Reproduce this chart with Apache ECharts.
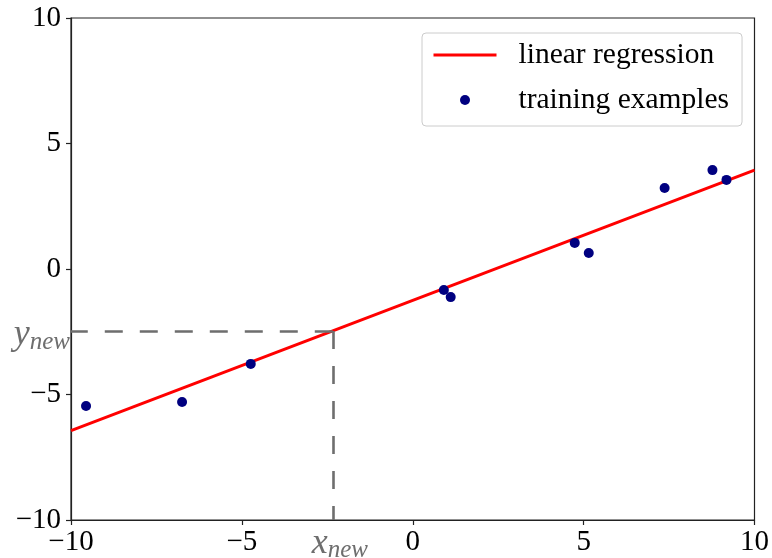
<!DOCTYPE html>
<html>
<head>
<meta charset="utf-8">
<script src="https://cdn.jsdelivr.net/npm/echarts@6/dist/echarts.min.js"></script>
<style>
html,body{margin:0;padding:0;background:#fff;}
#chart{width:772px;height:558px;}
</style>
</head>
<body>
<div id="chart"></div>
<script>
// ---- data ----
const xTrain = [-9.56, -6.75, -4.74, 0.91, 1.11, 4.74, 5.15, 7.37, 8.77, 9.18];
const yTrain = [-5.46, -5.30, -3.78, -0.84, -1.12, 1.04, 0.64, 3.23, 3.94, 3.55];
const lineX = [-10, 10];
const lineY = [-6.44, 3.94];
const xNew = -2.34;
const yNew = -2.47;
const axisMin = -10, axisMax = 10, axisStep = 5;
const seriesNames = ['linear regression', 'training examples'];

const FONT = 'Liberation Serif';
const minus = v => String(v).replace('-', '\u2212');

const chart = echarts.init(document.getElementById('chart'));
const rich = {
  v: {fontFamily: FONT, fontStyle: 'italic', fontSize: 36, color: '#6e6e6e'},
  s: {fontFamily: FONT, fontStyle: 'italic', fontSize: 25, color: '#6e6e6e', padding: [14, 0, 0, 0]}
};
chart.setOption({
  animation: false,
  backgroundColor: '#fff',
  grid: {left: 71, right: 17, top: 18, bottom: 38, show: true, borderColor: '#222', borderWidth: 1.2, backgroundColor: 'transparent'},
  legend: {
    data: [
      {name: seriesNames[0], itemStyle: {color: 'rgba(0,0,0,0)', borderWidth: 0, opacity: 0}, lineStyle: {width: 3, color: '#ff0000'}},
      {name: seriesNames[1]}
    ],
    orient: 'vertical',
    left: 422, top: 33,
    padding: [5, 13, 9, 10],
    itemGap: 11,
    itemWidth: 63, itemHeight: 10,
    backgroundColor: 'rgba(255,255,255,0.8)',
    borderColor: '#cccccc', borderWidth: 1, borderRadius: 4,
    textStyle: {fontFamily: FONT, fontSize: 29.5, lineHeight: 34, color: '#000', padding: [0, 0, 0, 17]}
  },
  xAxis: {
    type: 'value', min: axisMin, max: axisMax, interval: axisStep,
    splitLine: {show: false},
    axisLine: {onZero: false, lineStyle: {color: '#222', width: 1.2}},
    axisTick: {length: 5, lineStyle: {color: '#222', width: 1.2}},
    axisLabel: {fontFamily: FONT, fontSize: 29, color: '#000', margin: 8, formatter: minus}
  },
  yAxis: {
    type: 'value', min: axisMin, max: axisMax, interval: axisStep,
    splitLine: {show: false},
    axisLine: {onZero: false, lineStyle: {color: '#222', width: 1.2}},
    axisTick: {length: 5, lineStyle: {color: '#222', width: 1.2}},
    axisLabel: {fontFamily: FONT, fontSize: 29, color: '#000', margin: 10, formatter: minus}
  },
  series: [
    {
      name: 'guide', type: 'line', data: [], z: 1,
      markLine: {
        silent: true, symbol: 'none', animation: false,
        lineStyle: {color: '#6e6e6e', width: 2.6, type: [18, 17]},
        data: [
          [{coord: [xNew, yNew]}, {coord: [xNew, axisMin],
            label: {show: true, position: 'end', distance: 2, formatter: '{v|x}{s|new}', rich: rich, offset: [7, 2]}}],
          [{coord: [xNew, yNew]}, {coord: [axisMin, yNew],
            label: {show: true, position: 'end', distance: 1, formatter: '{v|y}{s|new}', rich: rich, offset: [0, 4]}}]
        ]
      }
    },
    {
      name: seriesNames[0], type: 'line', symbol: 'none', z: 3,
      data: lineX.map((x, i) => [x, lineY[i]]),
      lineStyle: {color: '#ff0000', width: 3},
      itemStyle: {color: '#ff0000'}
    },
    {
      name: seriesNames[1], type: 'scatter', symbol: 'circle', symbolSize: 10, z: 4,
      data: xTrain.map((x, i) => [x, yTrain[i]]),
      itemStyle: {color: '#000080', opacity: 1}
    }
  ]
});
</script>
</body>
</html>
